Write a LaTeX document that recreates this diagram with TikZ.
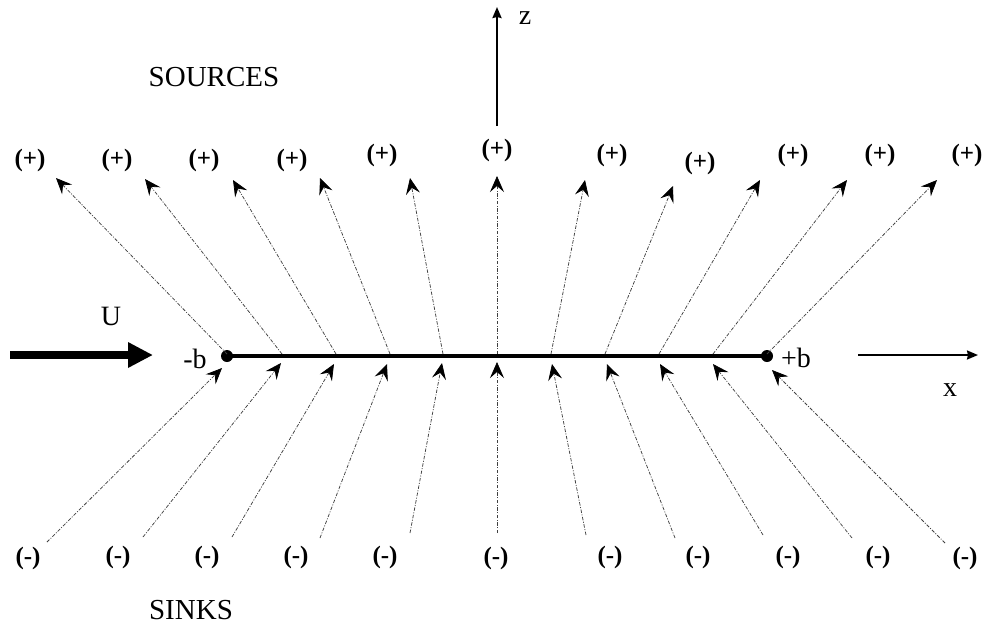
\documentclass[tikz,border=0pt]{standalone}
\usepackage{fontspec}
\setmainfont{Liberation Serif}
\usetikzlibrary{arrows.meta}
\tikzset{
  flowline/.style={draw=black!75, line width=0.75pt,
    dash pattern=on 3.5pt off 1.5pt on 1pt off 1.5pt,
    -{Stealth[length=16pt,width=14pt,inset=6pt,color=black]}},
  charge/.style={font=\fontsize{25}{27}\selectfont\bfseries, inner sep=0pt},
  lbl/.style={font=\fontsize{28}{30}\selectfont, inner sep=0pt},
  biglbl/.style={font=\fontsize{29}{31}\selectfont, inner sep=0pt},
  axis/.style={line width=2pt, -{Stealth[length=11pt,width=9pt,inset=1pt]}},
  enddot/.style={circle, fill=black, minimum size=12pt, inner sep=0pt}
}
\begin{document}
\begin{tikzpicture}[x=1pt,y=-1pt]
\useasboundingbox (0,0) rectangle (985,633);
% end dots
\node[enddot] (mb) at (227,356) {};
\node[enddot] (pb) at (767,356) {};
\draw[line width=4pt] (mb.center) -- (pb.center);
% start points on the segment (upper arrows)
\foreach \i/\x in {1/227,2/282,3/336,4/390,5/443,6/497,7/551,8/605,9/659,10/713,11/767}
  \coordinate (s\i) at (\x,354);
% upper tips
\foreach \i/\x/\y in {1/56/178,2/145/179,3/233/180,4/320/178,5/410/178,6/497/176,7/585/180,8/673/186,9/760/180,10/847/180,11/937/180}
  \coordinate (t\i) at (\x,\y);
% lower starts
\foreach \i/\x/\y in {1/47/542,2/143/537,3/232/537,4/320/538,5/410/533,6/497/533,7/586/535,8/675/538,9/763/535,10/852/538,11/945/543}
  \coordinate (b\i) at (\x,\y);
% lower tips
\foreach \i/\x/\y in {1/222/368,2/281/363,3/334/364,4/387/364,5/442/363,6/497/362,7/552/364,8/607/364,9/660/364,10/713/364,11/772/370}
  \coordinate (u\i) at (\x,\y);
\foreach \i in {1,...,11} {
  \draw[flowline] (s\i) -- (t\i);
  \draw[flowline] (b\i) -- (u\i);
}
% source labels
\foreach \i/\x/\y in {1/30/160,2/117/160,3/204/160,4/292/160,5/382/155,6/497/150,7/612/155,8/700/163,9/793/155,10/880/155,11/967/155}
  \node[charge] (p\i) at (\x,\y) {(+)};
% sink labels
\foreach \i/\x/\y in {1/28/558,2/118/557,3/207/557,4/296/557,5/385/557,6/496/558,7/610/557,8/698/557,9/788/557,10/878/557,11/965/558}
  \node[charge] (n\i) at (\x,\y) {(-)};
% titles
\node[biglbl] (sources) at (214,77) {SOURCES};
\node[biglbl] (sinks) at (191,610) {SINKS};
% free stream
\coordinate (ua) at (10,355);
\coordinate (ub) at (153,355);
\draw[line width=8pt, -{Triangle[length=25pt,width=24pt]}] (ua) -- (ub);
\node[lbl] (U) at (111,316) {U};
\node[lbl] (mbl) at (195,359) {-b};
\node[lbl] (pbl) at (796,358) {+b};
% axes
\coordinate (xa) at (858,355);
\coordinate (xb) at (978,355);
\draw[axis] (xa) -- (xb);
\node[lbl] (xl) at (950,390) {x};
\coordinate (za) at (497,126);
\coordinate (zb) at (497,7);
\draw[axis] (za) -- (zb);
\node[lbl] (zl) at (525,18) {z};
\end{tikzpicture}
\end{document}
